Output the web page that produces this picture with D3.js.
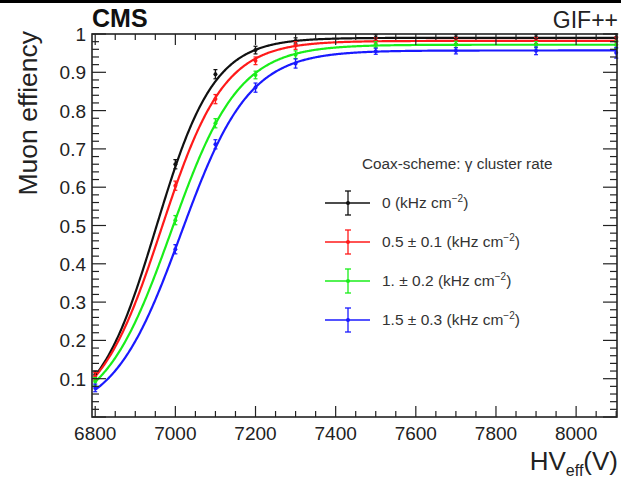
<!DOCTYPE html>
<html>
<head>
<meta charset="utf-8">
<script src="https://cdn.jsdelivr.net/npm/d3@7"></script>
<style>
  html, body { margin: 0; padding: 0; background: #fff; }
  svg { display: block; }
  text { font-family: "Liberation Sans", Arial, Helvetica, sans-serif; }
</style>
</head>
<body>
<svg id="chart" width="621" height="478"></svg>
<script>
// Effective high voltage of each measurement (V)
const hv = [6800, 7000, 7100, 7200, 7300, 7500, 7700, 7900, 8100];

// Muon efficiency for each gamma cluster rate
const effRate0   = [0.110, 0.660, 0.895, 0.958, 0.982, 0.990, 0.990, 0.990, 0.990];
const effRate05  = [0.106, 0.604, 0.830, 0.930, 0.970, 0.982, 0.983, 0.983, 0.982];
const effRate1   = [0.093, 0.514, 0.767, 0.893, 0.946, 0.972, 0.973, 0.972, 0.972];
const effRate15  = [0.076, 0.438, 0.712, 0.860, 0.923, 0.955, 0.956, 0.956, 0.951];

// Statistical uncertainty on each efficiency
const errRate0   = [0.010, 0.012, 0.012, 0.010, 0.008, 0.008, 0.008, 0.008, 0.010];
const errRate05  = [0.010, 0.012, 0.012, 0.010, 0.010, 0.008, 0.008, 0.008, 0.010];
const errRate1   = [0.010, 0.012, 0.012, 0.010, 0.010, 0.008, 0.008, 0.008, 0.010];
const errRate15  = [0.010, 0.012, 0.012, 0.012, 0.012, 0.008, 0.008, 0.010, 0.014];

// Sigmoid fit parameters: eff = effMax / (1 + exp(-lambda (HV - HV50)))
const fitEffMax = [0.990, 0.982, 0.972, 0.957];
const fitLambda = [0.0138, 0.0128, 0.0119, 0.0118];
const fitHV50   = [6952, 6965, 6990, 7014];

const seriesLabels = ["0", "0.5 \u00b1 0.1", "1. \u00b1 0.2", "1.5 \u00b1 0.3"];
const seriesColors = ["#111111", "#ff1a1a", "#1aee1a", "#1a1aff"];
const legendTitle = "Coax-scheme: \u03b3 cluster rate";

const xTicks = [6800, 7000, 7200, 7400, 7600, 7800, 8000];
const yTicks = [0.1, 0.2, 0.3, 0.4, 0.5, 0.6, 0.7, 0.8, 0.9, 1];

const effSeries = [effRate0, effRate05, effRate1, effRate15];
const errSeries = [errRate0, errRate05, errRate1, errRate15];

const svg = d3.select("#chart");
const W = 621, H = 478;
const frame = { left: 92, right: 617, top: 34, bottom: 417 };

const x = d3.scaleLinear().domain([6792, 8102]).range([frame.left, frame.right]);
const y = d3.scaleLinear().domain([0, 1]).range([frame.bottom, frame.top]);

// thin rule along the top edge of the figure
svg.append("rect").attr("x", 0).attr("y", 0).attr("width", W).attr("height", 3).attr("fill", "#000");

svg.append("clipPath").attr("id", "plotclip")
  .append("rect")
  .attr("x", frame.left).attr("y", frame.top - 2)
  .attr("width", frame.right - frame.left + 2)
  .attr("height", frame.bottom - frame.top + 2);

// ---- fit curves ----
const curveGroup = svg.append("g").attr("clip-path", "url(#plotclip)");
const hvSamples = d3.range(6800, 8102.1, 2);
effSeries.forEach((_, i) => {
  const fit = hvSamples.map(v => [v, fitEffMax[i] / (1 + Math.exp(-fitLambda[i] * (v - fitHV50[i])))]);
  curveGroup.append("path")
    .datum(fit)
    .attr("fill", "none")
    .attr("stroke", seriesColors[i])
    .attr("stroke-width", 2.2)
    .attr("d", d3.line().x(d => x(d[0])).y(d => y(d[1])));
});

// ---- data points with error bars ----
effSeries.forEach((eff, i) => {
  const g = svg.append("g").attr("stroke", seriesColors[i]).attr("fill", seriesColors[i]);
  const pts = hv.map((v, k) => ({ v, e: eff[k], err: errSeries[i][k] }));
  g.selectAll("line.bar").data(pts).join("line")
    .attr("x1", d => x(d.v)).attr("x2", d => x(d.v))
    .attr("y1", d => y(d.e - d.err)).attr("y2", d => y(d.e + d.err))
    .attr("stroke-width", 1.4);
  g.selectAll("line.capt").data(pts).join("line")
    .attr("x1", d => x(d.v) - 2).attr("x2", d => x(d.v) + 2)
    .attr("y1", d => y(d.e + d.err)).attr("y2", d => y(d.e + d.err))
    .attr("stroke-width", 1.2);
  g.selectAll("line.capb").data(pts).join("line")
    .attr("x1", d => x(d.v) - 2).attr("x2", d => x(d.v) + 2)
    .attr("y1", d => y(d.e - d.err)).attr("y2", d => y(d.e - d.err))
    .attr("stroke-width", 1.2);
  g.selectAll("circle").data(pts).join("circle")
    .attr("cx", d => x(d.v)).attr("cy", d => y(d.e)).attr("r", 2)
    .attr("stroke", "none");
});

// ---- frame and ticks (ticks inside on all four sides) ----
const axisColor = "#222";
const ticks = svg.append("g").attr("stroke", axisColor).attr("stroke-width", 1.2);
d3.range(6800, 8101, 50).forEach(v => {
  const major = v % 200 === 0;
  const len = major ? 11 : 6;
  const px = x(v);
  ticks.append("line").attr("x1", px).attr("x2", px).attr("y1", frame.bottom).attr("y2", frame.bottom - len);
  ticks.append("line").attr("x1", px).attr("x2", px).attr("y1", frame.top).attr("y2", frame.top + len);
});
d3.range(0, 51).map(k => k * 0.02).forEach(v => {
  const major = Math.abs(Math.round(v * 10) - v * 10) < 1e-6;
  const len = major ? 14 : 7;
  const py = y(v);
  if (py < frame.top - 0.5 || py > frame.bottom + 0.5) return;
  ticks.append("line").attr("x1", frame.left).attr("x2", frame.left + len).attr("y1", py).attr("y2", py);
  ticks.append("line").attr("x1", frame.right).attr("x2", frame.right - len).attr("y1", py).attr("y2", py);
});
svg.append("rect")
  .attr("x", frame.left).attr("y", frame.top)
  .attr("width", frame.right - frame.left).attr("height", frame.bottom - frame.top)
  .attr("fill", "none").attr("stroke", axisColor).attr("stroke-width", 1.6);

// ---- tick labels ----
svg.append("g").selectAll("text").data(xTicks).join("text")
  .attr("x", d => x(d)).attr("y", 440)
  .attr("text-anchor", "middle").attr("font-size", 19).attr("fill", "#222")
  .text(d => d);
svg.append("g").selectAll("text").data(yTicks).join("text")
  .attr("x", 86).attr("y", d => y(d) + 7)
  .attr("text-anchor", "end").attr("font-size", 19).attr("fill", "#222")
  .text(d => d === 1 ? "1" : d3.format(".1f")(d));

// ---- axis titles ----
svg.append("text")
  .attr("transform", "translate(37,31) rotate(-90)")
  .attr("text-anchor", "end").attr("font-size", 26.5).attr("fill", "#222")
  .text("Muon effiency");

const xTitle = svg.append("text")
  .attr("x", 618).attr("y", 470)
  .attr("text-anchor", "end").attr("font-size", 26).attr("fill", "#222");
xTitle.append("tspan").text("HV");
xTitle.append("tspan").attr("dy", 6).attr("font-size", 16).text("eff");
xTitle.append("tspan").attr("dy", -6).text("(V)");

// ---- header texts ----
svg.append("text").attr("x", 92).attr("y", 27)
  .attr("font-size", 25).attr("font-weight", "bold").attr("fill", "#111")
  .text("CMS");
svg.append("text").attr("x", 618).attr("y", 28)
  .attr("text-anchor", "end").attr("font-size", 23).attr("fill", "#222")
  .text("GIF++");

// ---- legend ----
const legend = svg.append("g");
legend.append("text").attr("x", 362).attr("y", 169)
  .attr("font-size", 15.3).attr("fill", "#333").text(legendTitle);
const entryY = [203, 242, 281, 320];
seriesLabels.forEach((lab, i) => {
  const gy = entryY[i];
  const g = legend.append("g").attr("stroke", seriesColors[i]).attr("stroke-width", 1.3);
  g.append("line").attr("x1", 325).attr("x2", 370).attr("y1", gy).attr("y2", gy);
  g.append("line").attr("x1", 348).attr("x2", 348).attr("y1", gy - 12).attr("y2", gy + 12);
  g.append("line").attr("x1", 345).attr("x2", 351).attr("y1", gy - 12).attr("y2", gy - 12);
  g.append("line").attr("x1", 345).attr("x2", 351).attr("y1", gy + 12).attr("y2", gy + 12);
  legend.append("circle").attr("cx", 348).attr("cy", gy).attr("r", 2).attr("fill", seriesColors[i]);
  const t = legend.append("text").attr("x", 382).attr("y", gy + 5)
    .attr("font-size", 15.5).attr("fill", "#333");
  t.append("tspan").text(lab + " (kHz cm");
  t.append("tspan").attr("dy", -6).attr("font-size", 10).text("\u22122");
  t.append("tspan").attr("dy", 6).text(")");
});
</script>
</body>
</html>
